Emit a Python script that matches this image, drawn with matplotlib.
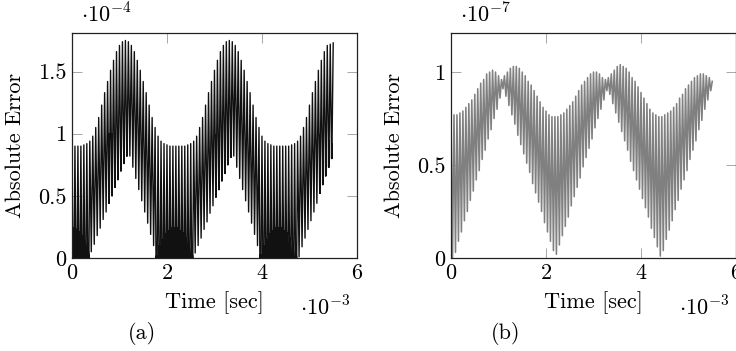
import matplotlib
matplotlib.use("Agg")
import matplotlib.pyplot as plt
import numpy as np

plt.rcParams['font.family'] = ['cmr10', 'DejaVu Serif']
plt.rcParams['mathtext.fontset'] = 'cm'
plt.rcParams['axes.unicode_minus'] = False

# time grid: one oscillation per step, 0 .. 5.5 ms (x 1e-3)
t_step = 0.0625
n_cycles = 88

# (a) absolute error, units of 1e-4
upper_a = [0.90, 0.90, 0.90, 0.90, 0.91, 0.92, 0.94, 0.98, 1.05, 1.13, 1.23, 1.33, 1.42, 1.51, 1.59, 1.66, 1.71, 1.74,
           1.75,
           1.74, 1.71, 1.66, 1.59, 1.51, 1.42, 1.33, 1.23, 1.13, 1.05, 0.98, 0.94, 0.92, 0.91, 0.90, 0.90, 0.90,
           0.90, 0.90, 0.90, 0.91, 0.92, 0.94, 0.98, 1.05, 1.13, 1.23, 1.33, 1.42, 1.51, 1.59, 1.66, 1.71, 1.74,
           1.75,
           1.74, 1.71, 1.66, 1.59, 1.51, 1.42, 1.33, 1.23, 1.13, 1.05, 0.98, 0.94, 0.92, 0.91, 0.90, 0.90, 0.90,
           0.90, 0.90, 0.90, 0.91, 0.92, 0.94, 0.98, 1.05, 1.13, 1.23, 1.33, 1.42, 1.51, 1.59, 1.66, 1.71, 1.72,
           1.73]
lower_a = [0, 0, 0, 0, 0, 0,
           0.05, 0.11, 0.18, 0.24, 0.31, 0.37, 0.44, 0.50, 0.57, 0.63, 0.70, 0.76, 0.82,
           0.82, 0.73, 0.64, 0.55, 0.46, 0.37, 0.28, 0.19, 0.10,
           0, 0, 0, 0, 0, 0, 0, 0, 0, 0, 0, 0, 0,
           0.04, 0.10, 0.16, 0.23, 0.29, 0.36, 0.42, 0.49, 0.55, 0.62, 0.68, 0.75, 0.81,
           0.82, 0.73, 0.64, 0.55, 0.46, 0.37, 0.28, 0.19, 0.10,
           0, 0, 0, 0, 0, 0, 0, 0, 0, 0, 0, 0, 0,
           0.01, 0.09, 0.16, 0.23, 0.30, 0.37, 0.44, 0.52, 0.59, 0.66, 0.73, 0.80]
crest_a = [0.24, 0.23, 0.21, 0.18, 0.13, 0.06,
           0.05, 0.11, 0.18, 0.24, 0.31, 0.37,
           1.00, 1.00, 0.98, 0.96, 0.93, 0.90, 0.87,
           0.82, 0.73, 0.64, 0.55, 0.46, 0.37, 0.28, 0.19, 0.10,
           0.02, 0.10, 0.15, 0.19, 0.22, 0.24, 0.24, 0.24, 0.22, 0.20, 0.16, 0.11, 0.04,
           0.04, 0.10, 0.16, 0.23, 0.29, 0.36, 0.42,
           0.99, 0.98, 0.96, 0.93, 0.90, 0.87,
           0.82, 0.73, 0.64, 0.55, 0.46, 0.37, 0.28, 0.19, 0.10,
           0.03, 0.10, 0.15, 0.19, 0.22, 0.24, 0.24, 0.24, 0.22, 0.20, 0.16, 0.11, 0.04,
           0.01, 0.09, 0.16, 0.23, 0.30, 0.37, 0.44,
           0.99, 0.98, 0.96, 0.94, 0.92]

# (b) absolute error, units of 1e-7
upper_b = [0.76, 0.77, 0.77, 0.78, 0.79, 0.81, 0.83, 0.85, 0.88, 0.91,
           0.94, 0.96, 0.99, 1.00, 1.01, 1.00, 0.98, 0.96, 0.98, 1.00,
           1.02, 1.03, 1.03, 1.02, 1.00, 0.98, 0.95, 0.93, 0.90, 0.87,
           0.84, 0.81, 0.79, 0.77, 0.76, 0.76, 0.76, 0.77, 0.78, 0.80,
           0.82, 0.84, 0.87, 0.90, 0.93, 0.95, 0.97, 0.99, 1.00, 1.00,
           0.99, 0.97, 0.96, 0.97, 0.99, 1.01, 1.03, 1.04, 1.03, 1.02,
           1.00, 0.97, 0.95, 0.92, 0.89, 0.86, 0.83, 0.80, 0.78, 0.77,
           0.76, 0.76, 0.77, 0.78, 0.79, 0.81, 0.83, 0.86, 0.88, 0.91,
           0.93, 0.95, 0.97, 0.98, 0.99, 0.99, 0.98, 0.97, 0.95]
lower_b = [0.00, 0.03, 0.09, 0.14, 0.20, 0.25, 0.31, 0.36, 0.42, 0.47,
           0.53, 0.58, 0.64, 0.69, 0.75, 0.80, 0.86, 0.91, 0.87, 0.82,
           0.77, 0.72, 0.66, 0.61, 0.56, 0.51, 0.46, 0.40, 0.35, 0.30,
           0.25, 0.19, 0.14, 0.09, 0.04, 0.02, 0.07, 0.12, 0.17, 0.22,
           0.28, 0.33, 0.38, 0.43, 0.49, 0.54, 0.59, 0.64, 0.70, 0.75,
           0.80, 0.85, 0.90, 0.88, 0.83, 0.78, 0.73, 0.68, 0.63, 0.58,
           0.52, 0.47, 0.42, 0.37, 0.32, 0.27, 0.22, 0.16, 0.11, 0.06,
           0.01, 0.04, 0.10, 0.15, 0.20, 0.26, 0.31, 0.37, 0.42, 0.47,
           0.53, 0.58, 0.63, 0.69, 0.74, 0.80, 0.85, 0.90]
crest_b = lower_b


def build_trace(upper, lower, crest):
    # each cycle: peak -> trough (-> small crest -> trough) -> next peak
    t, y = [], []
    for k in range(n_cycles):
        t0 = k * t_step
        t.append(t0)
        y.append(upper[k])
        if crest[k] != lower[k]:
            w = 0.2 if lower[k] == 0 else 0.05
            t += [t0 + (0.5 - w) * t_step, t0 + 0.5 * t_step, t0 + (0.5 + w) * t_step]
            y += [lower[k], crest[k], lower[k]]
        else:
            t.append(t0 + 0.5 * t_step)
            y.append(lower[k])
    t.append(n_cycles * t_step)
    y.append(upper[n_cycles])
    return np.array(t), np.array(y)


def style_axes(ax, ymax, yticks, ylabels, yexp):
    ax.set_xlim(0, 6)
    ax.set_ylim(0, ymax)
    ax.set_xticks([0, 2, 4, 6])
    ax.set_xticklabels(['0', '2', '4', '6'])
    ax.set_yticks(yticks)
    ax.set_yticklabels(ylabels)
    ax.tick_params(direction='in', length=7, width=0.6, color='#999999',
                   top=True, right=True, labelsize=16, pad=4)
    for s in ax.spines.values():
        s.set_linewidth(0.9)
        s.set_color('#222222')
    ax.set_xlabel('Time [sec]', fontsize=16)
    ax.xaxis.set_label_coords(0.5, -0.2)
    ax.xaxis.label.set_va('center')
    ax.set_ylabel('Absolute Error', fontsize=16)
    ax.yaxis.set_label_coords(-0.2, 0.5)
    ax.yaxis.label.set_va('center')
    ax.text(0.03, 1.08, r'$\cdot10^{-%d}$' % yexp, transform=ax.transAxes,
            fontsize=16, ha='left', va='center')
    ax.text(0.89, -0.22, r'$\cdot10^{-3}$', transform=ax.transAxes,
            fontsize=16, ha='center', va='center')


fig = plt.figure(figsize=(7.36, 3.51), dpi=100)
ax1 = fig.add_axes([0.0978, 0.265, 0.3872, 0.641])
ax2 = fig.add_axes([0.6128, 0.265, 0.3872, 0.641])

ta, ya = build_trace(upper_a, lower_a, crest_a)
ax1.plot(ta, ya, color='#111111', lw=1.0)
style_axes(ax1, 1.81, [0, 0.5, 1, 1.5], ['0', '0.5', '1', '1.5'], 4)

tb, yb = build_trace(upper_b, lower_b, crest_b)
ax2.plot(tb, yb, color='#808080', lw=1.15)
style_axes(ax2, 1.21, [0, 0.5, 1], ['0', '0.5', '1'], 7)

fig.text(0.193, 0.051, '(a)', fontsize=16, ha='center', va='center')
fig.text(0.6875, 0.051, '(b)', fontsize=16, ha='center', va='center')

fig.savefig('out.png', dpi=100)
